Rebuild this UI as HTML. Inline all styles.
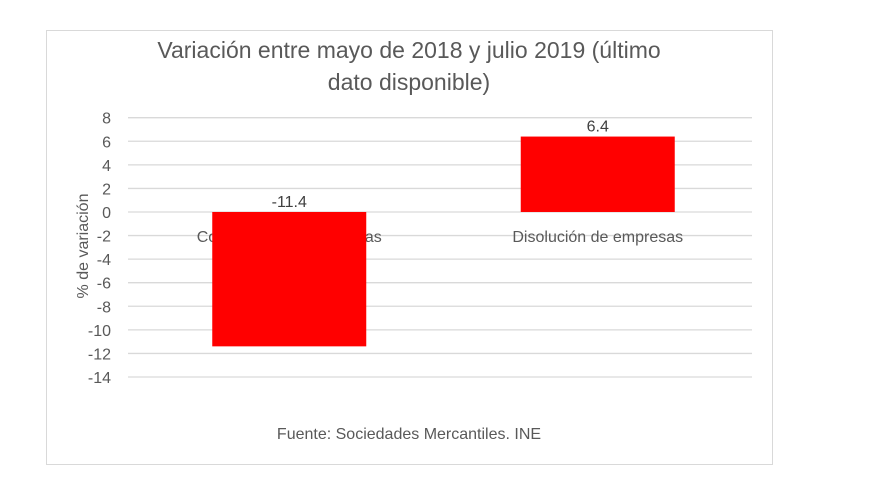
<!DOCTYPE html>
<html><head><meta charset="utf-8"><style>
body{margin:0;background:#fff;width:874px;height:487px;overflow:hidden;font-family:"Liberation Sans",sans-serif}
</style></head><body>
<svg width="874" height="487">
<rect x="46.5" y="30.5" width="726" height="434" fill="#fff" stroke="#d9d9d9"/>
<text x="409" y="58" font-size="23" fill="#595959" text-anchor="middle">Variación entre mayo de 2018 y julio 2019 (último</text>
<text x="409" y="90" font-size="23" fill="#595959" text-anchor="middle">dato disponible)</text>
<text transform="translate(88,246) rotate(-90)" font-size="16" fill="#595959" text-anchor="middle">% de variación</text>
<text x="409" y="439" font-size="16" fill="#595959" text-anchor="middle">Fuente: Sociedades Mercantiles. INE</text>
<g id="grid"></g><g id="labels"></g><g id="bars"></g>
</svg>
<script>
const categories=["Constitución de empresas","Disolución de empresas"];
const values=[-11.4,6.4];
const valueLabels=["-11.4","6.4"];
const yTicks=[8,6,4,2,0,-2,-4,-6,-8,-10,-12,-14];
const NS="http://www.w3.org/2000/svg";
const x0=135,x1=752,gx0=128,yTop=117.7,yBot=377;
function y(v){return yTop+(8-v)*(yBot-yTop)/22;}
const bw=(x1-x0)/categories.length;
function xc(i){return x0+bw*(i+0.5);}
function mk(t,a,p){const e=document.createElementNS(NS,t);for(const k in a)e.setAttribute(k,a[k]);document.getElementById(p).appendChild(e);return e;}
yTicks.forEach(v=>{
 const l=mk('line',{x1:gx0,x2:x1,y1:y(v),y2:y(v),stroke:'#d9d9d9','stroke-width':1.3},'grid');
 
 
 const t=mk('text',{x:111,y:y(v)+6,'font-size':16,fill:'#595959','text-anchor':'end'},'grid');
 t.textContent=v;
 
 
});
categories.forEach((c,i)=>{
 const t=mk('text',{x:xc(i),y:y(0)+30,'font-size':16,fill:'#595959','text-anchor':'middle'},'labels');
 t.textContent=c;
 
 
});
values.forEach((v,i)=>{
 const w=154, top=Math.min(y(v),y(0)), h=Math.abs(y(v)-y(0));
 const r=mk('rect',{x:xc(i)-w/2,y:top,width:w,height:h,fill:'#ff0000'},'bars');
 
 
 const t=mk('text',{x:xc(i),y:(v<0?y(0):y(v))-5,'font-size':16,fill:'#404040','text-anchor':'middle'},'bars');
 t.textContent=valueLabels[i];
 
 
});
</script>
</body></html>
